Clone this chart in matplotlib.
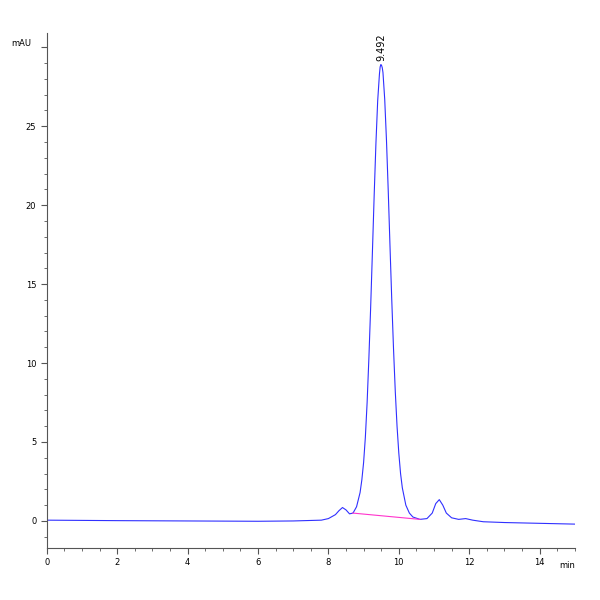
import matplotlib
matplotlib.use("Agg")
import matplotlib.pyplot as plt
from matplotlib.ticker import MultipleLocator, FixedFormatter, FixedLocator

# chromatogram trace (min, mAU)
time_min = [0, 2, 4, 6, 7, 7.8, 8.0, 8.2, 8.3, 8.4, 8.5, 8.6, 8.7, 8.8, 8.9,
            8.95, 9.0, 9.05, 9.1, 9.15, 9.2, 9.25, 9.3, 9.35, 9.4, 9.45, 9.47,
            9.49, 9.51, 9.53, 9.55, 9.6, 9.65, 9.7, 9.75, 9.8, 9.85, 9.9, 9.95,
            10.0, 10.05, 10.1, 10.2, 10.3, 10.4, 10.6, 10.8, 10.95, 11.05,
            11.15, 11.25, 11.35, 11.5, 11.7, 11.9, 12.1, 12.4, 13, 14, 15]
signal_mau = [0.05, 0.02, 0.0, -0.02, 0.0, 0.05, 0.15, 0.4, 0.65, 0.85, 0.7,
              0.45, 0.5, 0.9, 1.8, 2.6, 3.7, 5.3, 7.5, 10.3, 13.5, 17.0, 20.6,
              23.9, 26.6, 28.3, 28.75, 28.9, 28.85, 28.7, 28.4, 26.7, 24.1,
              20.9, 17.4, 14.0, 10.9, 8.2, 6.0, 4.3, 3.0, 2.1, 1.0, 0.5, 0.25,
              0.1, 0.15, 0.5, 1.1, 1.35, 1.0, 0.5, 0.2, 0.1, 0.15, 0.05, -0.05,
              -0.1, -0.15, -0.2]

# integration baseline of the main peak
base_x = [8.69, 10.6]
base_y = [0.5, 0.1]
peak_rt = 9.492
peak_h = 28.9

y_ticks = [0, 5, 10, 15, 20, 25, 30]
y_labels = ["0", "5", "10", "15", "20", "25", ""]

fig = plt.figure(figsize=(6, 6), dpi=100)
ax = fig.add_axes([0.078, 0.087, 0.88, 0.858])
ax.plot(time_min, signal_mau, color="#3030ff", lw=0.8)
ax.plot(base_x, base_y, color="#ff33cc", lw=0.8)
ax.text(peak_rt, peak_h + 0.2, "%.3f" % peak_rt, rotation=90, ha="center",
        va="bottom", fontsize=7)

ax.set_xlim(0, 15)
ax.set_ylim(-1.7, 30.9)
ax.spines["top"].set_visible(False)
ax.spines["right"].set_visible(False)
for s in ("left", "bottom"):
    ax.spines[s].set_color("#555555")
    ax.spines[s].set_linewidth(0.8)
ax.xaxis.set_major_locator(MultipleLocator(2))
ax.xaxis.set_minor_locator(MultipleLocator(0.5))
ax.yaxis.set_major_locator(FixedLocator(y_ticks))
ax.yaxis.set_major_formatter(FixedFormatter(y_labels))
ax.yaxis.set_minor_locator(MultipleLocator(1))
ax.tick_params(labelsize=6, length=4, width=0.8, color="#555555")
ax.tick_params(which="minor", length=2, width=0.6, color="#555555")
ax.text(-0.03, 0.98, "mAU", transform=ax.transAxes, ha="right", va="center",
        fontsize=6)
ax.text(1.0, -0.035, "min", transform=ax.transAxes, ha="right", va="center",
        fontsize=6)

fig.savefig("out.png")
